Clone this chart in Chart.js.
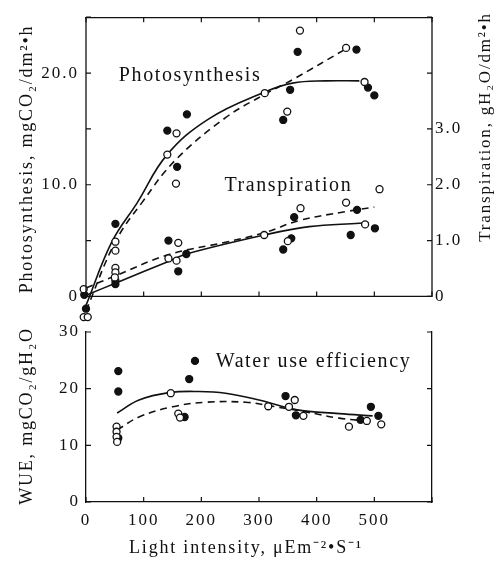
<!DOCTYPE html>
<html>
<head>
<meta charset="utf-8">
<script src="https://cdn.jsdelivr.net/npm/chart.js@4.4.0/dist/chart.umd.min.js"></script>
<style>
  body { margin: 0; background: #fff; }
  #wrap { position: relative; width: 500px; height: 564px; }
  canvas { position: absolute; left: 0; }
</style>
</head>
<body>
<div id="wrap">
  <canvas id="top-chart" width="500" height="340" style="top:0"></canvas>
  <canvas id="wue-chart" width="500" height="254" style="top:310px"></canvas>
</div>
<script>
// light intensity (uE m-2 s-1) vs photosynthesis (mgCO2/dm2.h), left axis
var psFilledX = [0, 51, 141, 158, 175, 342, 354, 367, 469, 489, 500];
var psFilledY = [-1.1, 6.5, 14.85, 11.6, 16.3, 15.8, 18.5, 21.9, 22.1, 18.7, 18.0];
var psOpenX = [-4, 3, 51, 51, 141, 157, 156, 310, 349, 371, 451, 483];
var psOpenY = [-1.85, -1.85, 4.9, 4.1, 12.7, 14.6, 10.1, 18.2, 16.55, 23.8, 22.25, 19.2];
var psSolidX = [0, 45, 89, 140, 213, 310, 358, 416, 474];
var psSolidY = [-0.8, 4.9, 8.4, 12.65, 15.9, 18.3, 19.1, 19.3, 19.3];
var psDashX = [0, 51, 97, 155, 242, 310, 358, 452];
var psDashY = [-1.3, 4.9, 8.4, 12.2, 16.0, 18.1, 19.4, 22.2];

// transpiration (gH2O/dm2.h), right axis
var trFilledX = [-3, 51, 51, 143, 160, 174, 342, 356, 361, 459, 470, 501];
var trFilledY = [0.03, 0.28, 0.22, 1.0, 0.45, 0.76, 0.84, 1.04, 1.42, 1.10, 1.55, 1.22];
var trOpenX = [-4, 51, 51, 50, 143, 157, 160, 309, 350, 372, 451, 484, 509];
var trOpenY = [0.13, 0.51, 0.43, 0.34, 0.68, 0.64, 0.96, 1.10, 0.99, 1.58, 1.68, 1.29, 1.92];
var trSolidX = [0, 54, 144, 174, 309, 387, 474, 490];
var trSolidY = [0.02, 0.25, 0.63, 0.76, 1.10, 1.25, 1.31, 1.32];
var trDashX = [0, 51, 144, 242, 309, 370, 451, 500];
var trDashY = [0.15, 0.37, 0.75, 0.97, 1.14, 1.36, 1.52, 1.6];

// water use efficiency (mgCO2/gH2O)
var wueFilledX = [56, 56, 56, 171, 179, 189, 346, 364, 476, 494, 507];
var wueFilledY = [23.1, 19.5, 11.3, 15.0, 21.7, 24.9, 18.7, 15.3, 14.5, 16.8, 15.2];
var wueOpenX = [53, 53, 53, 54, 147, 160, 163, 316, 352, 362, 377, 456, 487, 512];
var wueOpenY = [13.3, 12.4, 11.5, 10.6, 19.2, 15.6, 14.9, 16.9, 16.8, 18.0, 15.2, 13.3, 14.3, 13.7];
var wueSolidX = [54, 92, 144, 196, 242, 300, 364, 439, 497];
var wueSolidY = [15.7, 18.0, 19.3, 19.5, 19.2, 18.0, 16.3, 15.6, 15.2];
var wueDashX = [54, 92, 150, 208, 277, 323, 381, 439, 497];
var wueDashY = [12.7, 15.0, 16.8, 17.6, 17.6, 16.9, 15.9, 14.8, 14.2];

var serif = "'Liberation Serif', 'Times New Roman', serif";
Chart.defaults.font.family = serif;
Chart.defaults.color = "#111";

function pts(xs, ys) {
  return xs.map((x, i) => ({ x: x, y: ys[i] }));
}

function dots(data, filled, axis) {
  return {
    data: data, yAxisID: axis, showLine: false, clip: false,
    pointRadius: 3.5, pointBorderWidth: 1.3,
    pointBorderColor: "#111",
    pointBackgroundColor: filled ? "#111" : "#fff"
  };
}

function curve(data, dashed, axis) {
  return {
    data: data, yAxisID: axis, showLine: true, clip: false,
    borderColor: "#111", borderWidth: 1.6, borderDash: dashed ? [7, 5] : [],
    pointRadius: 0, tension: 0.4
  };
}

function drawText(ctx, text, x, y, size, gap, rot, align) {
  ctx.save();
  ctx.translate(x, y);
  ctx.rotate(rot || 0);
  ctx.font = size + "px " + serif;
  ctx.letterSpacing = gap + "px";
  ctx.fillStyle = "#111";
  ctx.textAlign = align || "center";
  ctx.textBaseline = "middle";
  ctx.fillText(text, 0, 0);
  ctx.restore();
}

// letter spaced text everywhere, like the original typesetting
var spacing = {
  id: "spacing",
  beforeDraw(chart) { chart.ctx.letterSpacing = "2px"; }
};

// tick marks pointing into the plot, only from zero upwards
var inTicks = {
  id: "inTicks",
  afterDraw(chart, args, opts) {
    let ctx = chart.ctx, a = chart.chartArea;
    let base = chart.scales.y.getPixelForValue(0);
    ctx.save();
    ctx.strokeStyle = "#111";
    ctx.lineWidth = 1.2;
    ctx.beginPath();
    opts.ids.forEach(id => {
      let s = chart.scales[id];
      s.ticks.forEach(t => {
        if (t.value < 0) return;
        let p = s.getPixelForValue(t.value);
        if (s.position === "bottom") { ctx.moveTo(p, base); ctx.lineTo(p, base - 5); }
        if (s.position === "top") { ctx.moveTo(p, a.top); ctx.lineTo(p, a.top + 5); }
        if (s.position === "left") { ctx.moveTo(a.left, p); ctx.lineTo(a.left + 5, p); }
        if (s.position === "right") { ctx.moveTo(a.right, p); ctx.lineTo(a.right - 5, p); }
      });
    });
    ctx.stroke();
    ctx.restore();
  }
};

// box of the upper panel: it stops at zero, the dark respiration points hang below it
var frame = {
  id: "frame",
  afterDraw(chart) {
    let ctx = chart.ctx, a = chart.chartArea;
    let y0 = chart.scales.y.getPixelForValue(0);
    ctx.save();
    ctx.strokeStyle = "#111";
    ctx.lineWidth = 1.3;
    ctx.beginPath();
    ctx.moveTo(a.left, a.top);
    ctx.lineTo(a.left, y0);
    ctx.lineTo(a.right, y0);
    ctx.lineTo(a.right, a.top);
    ctx.stroke();
    ctx.restore();
  }
};

// curve names inside the plot and the axis titles
var texts = {
  id: "texts",
  afterDraw(chart, args, opts) {
    let ctx = chart.ctx;
    opts.labels.forEach(l => {
      let px = chart.scales.x.getPixelForValue(l.x);
      let py = chart.scales[l.axis].getPixelForValue(l.y);
      drawText(ctx, l.text, px, py, 20, 1.6, 0, "left");
    });
    opts.titles.forEach(t => {
      drawText(ctx, t.text, t.cx, t.cy, t.size, 1.8, t.rot, "center");
    });
  }
};

function frameAxis(pos, min, max, step, extra) {
  return Object.assign({
    type: "linear", position: pos, min: min, max: max,
    grid: { display: false, drawTicks: false },
    border: { display: true, color: "#111", width: 1.3 },
    ticks: { stepSize: step, padding: 6, font: { size: 17 }, color: "#111", includeBounds: false }
  }, extra);
}

var topChart = new Chart(document.getElementById("top-chart").getContext("2d"), {
  type: "scatter",
  data: {
    datasets: [
      dots(pts(psOpenX, psOpenY), false, "y"),
      dots(pts(trOpenX, trOpenY), false, "y1"),
      dots(pts(psFilledX, psFilledY), true, "y"),
      dots(pts(trFilledX, trFilledY), true, "y1"),
      curve(pts(psSolidX, psSolidY), false, "y"),
      curve(pts(psDashX, psDashY), true, "y"),
      curve(pts(trSolidX, trSolidY), false, "y1"),
      curve(pts(trDashX, trDashY), true, "y1")
    ]
  },
  options: {
    responsive: false,
    animation: false,
    layout: { padding: 0 },
    scales: {
      x: frameAxis("bottom", 0, 600, 100, {
        border: { display: false },
        ticks: { display: false, stepSize: 100 },
        afterFit: s => { s.height = 19; }
      }),
      x2: frameAxis("top", 0, 600, 100, {
        display: true,
        ticks: { display: false, stepSize: 100 },
        afterFit: s => { s.height = 11; }
      }),
      y: frameAxis("left", -2.2, 25, 5, {
        border: { display: false },
        ticks: {
          stepSize: 5, padding: 7, font: { size: 17 }, color: "#111", includeBounds: false,
          callback: v => v === 0 ? "0" : (v % 10 === 0 && v > 0 && v < 25 ? v.toFixed(1) : "")
        },
        afterFit: s => { s.width = 86; }
      }),
      y1: frameAxis("right", -0.44, 5, 1, {
        border: { display: false },
        ticks: {
          stepSize: 1, padding: 3, font: { size: 17 }, color: "#111", includeBounds: false,
          callback: v => v === 0 ? "0" : (v > 0 && v <= 3 ? v.toFixed(1) : "")
        },
        afterFit: s => { s.width = 68; }
      })
    },
    plugins: {
      legend: { display: false },
      tooltip: { enabled: false },
      inTicks: { ids: ["x", "x2", "y", "y1"] },
      texts: {
        labels: [
          { text: "Photosynthesis", x: 57, y: 19.8, axis: "y" },
          { text: "Transpiration", x: 240, y: 9.9, axis: "y" }
        ],
        titles: [
          { text: "Photosynthesis, mgCO₂/dm²•h", cx: 27, cy: 159, size: 18, rot: -Math.PI / 2 },
          { text: "Transpiration, gH₂O/dm²•h", cx: 486, cy: 127, size: 17, rot: -Math.PI / 2 }
        ]
      }
    }
  },
  plugins: [spacing, frame, inTicks, texts]
});

var wueChart = new Chart(document.getElementById("wue-chart").getContext("2d"), {
  type: "scatter",
  data: {
    datasets: [
      dots(pts(wueOpenX, wueOpenY), false, "y"),
      dots(pts(wueFilledX, wueFilledY), true, "y"),
      curve(pts(wueSolidX, wueSolidY), false, "y"),
      curve(pts(wueDashX, wueDashY), true, "y")
    ]
  },
  options: {
    responsive: false,
    animation: false,
    layout: { padding: 0 },
    scales: {
      x: frameAxis("bottom", 0, 600, 100, {
        ticks: {
          stepSize: 100, padding: 8, font: { size: 17 }, color: "#111",
          callback: v => v <= 500 ? String(v) : ""
        },
        afterFit: s => { s.height = 62; }
      }),
      x2: frameAxis("top", 0, 600, 100, {
        display: true,
        border: { display: false },
        ticks: { display: false },
        afterFit: s => { s.height = 22; }
      }),
      y: frameAxis("left", 0, 30, 10, {
        afterFit: s => { s.width = 86; }
      }),
      y1: frameAxis("right", 0, 30, 10, {
        ticks: { display: false, stepSize: 10 },
        afterFit: s => { s.width = 68; }
      })
    },
    plugins: {
      legend: { display: false },
      tooltip: { enabled: false },
      inTicks: { ids: ["x", "y", "y1"] },
      texts: {
        labels: [
          { text: "Water use efficiency", x: 225, y: 24.7, axis: "y" }
        ],
        titles: [
          { text: "WUE, mgCO₂/gH₂O", cx: 27, cy: 106, size: 18, rot: -Math.PI / 2 },
          { text: "Light intensity, μEm⁻²•S⁻¹", cx: 246, cy: 238, size: 18, rot: 0 }
        ]
      }
    }
  },
  plugins: [spacing, inTicks, texts]
});
</script>
</body>
</html>
